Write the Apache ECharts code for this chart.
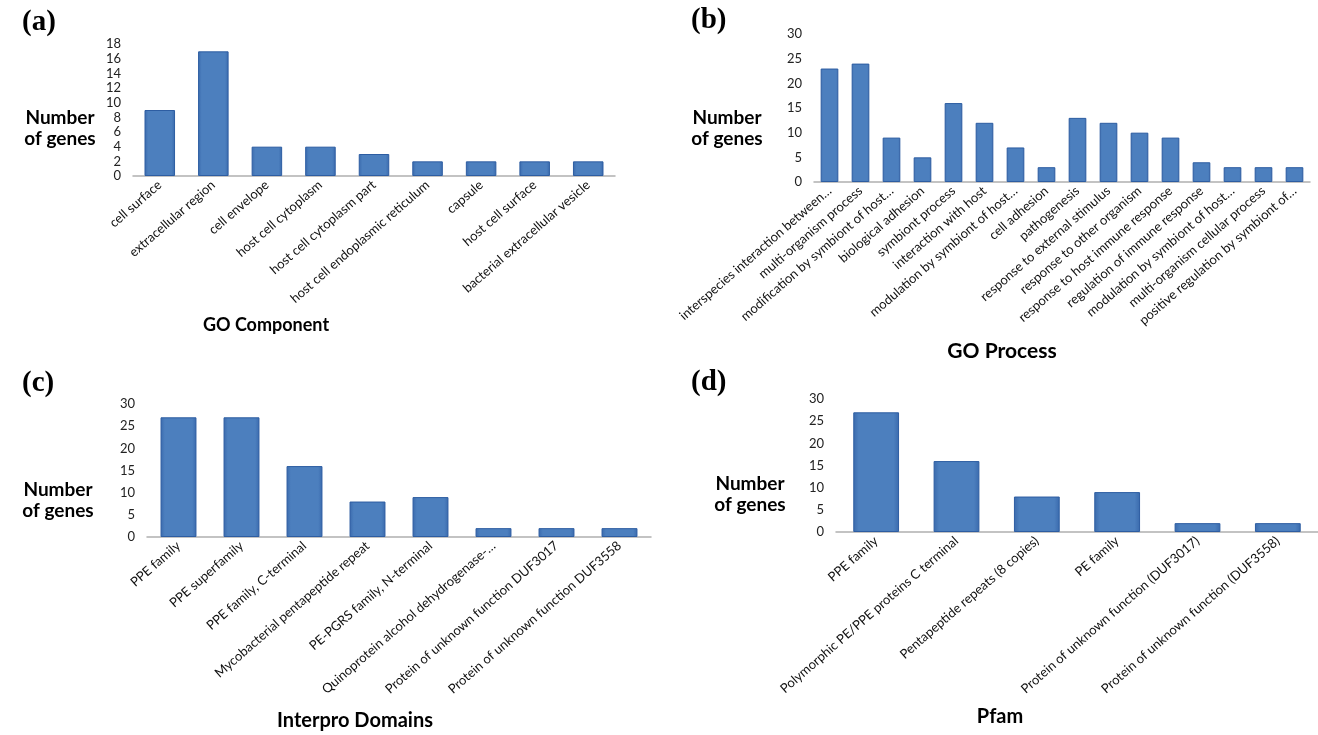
<!DOCTYPE html>
<html>
<head>
<meta charset="utf-8">
<script src="https://cdn.jsdelivr.net/npm/echarts@6/dist/echarts.min.js"></script>
<style>
  html, body { margin: 0; padding: 0; background: #fff; }
  #chart { width: 1318px; height: 735px; }
</style>
</head>
<body>
<div id="chart"></div>
<script>
// GO Component
const compCats = ['cell surface', 'extracellular region', 'cell envelope', 'host cell cytoplasm',
  'host cell cytoplasm part', 'host cell endoplasmic reticulum', 'capsule', 'host cell surface',
  'bacterial extracellular vesicle'];
const compVals = [9, 17, 4, 4, 3, 2, 2, 2, 2];

// GO Process
const procCats = ['interspecies interaction between…', 'multi-organism process',
  'modification by symbiont of host…', 'biological adhesion', 'symbiont process',
  'interaction with host', 'modulation by symbiont of host…', 'cell adhesion', 'pathogenesis',
  'response to external stimulus', 'response to other organism', 'response to host immune response',
  'regulation of immune response', 'modulation by symbiont of host…', 'multi-organism cellular process',
  'positive regulation by symbiont of…'];
const procVals = [23, 24, 9, 5, 16, 12, 7, 3, 13, 12, 10, 9, 4, 3, 3, 3];

// Interpro Domains
const iproCats = ['PPE family', 'PPE superfamily', 'PPE family, C-terminal',
  'Mycobacterial pentapeptide repeat', 'PE-PGRS family, N-terminal',
  'Quinoprotein alcohol dehydrogenase-…', 'Protein of unknown function DUF3017',
  'Protein of unknown function DUF3558'];
const iproVals = [27, 27, 16, 8, 9, 2, 2, 2];

// Pfam
const pfamCats = ['PPE family', 'Polymorphic PE/PPE proteins C terminal', 'Pentapeptide repeats (8 copies)',
  'PE family', 'Protein of unknown function (DUF3017)', 'Protein of unknown function (DUF3558)'];
const pfamVals = [27, 16, 8, 9, 2, 2];

const panels = [
  { cats: compCats, vals: compVals, max: 18, step: 2,
    grid: { left: 133, top: 44, width: 482, height: 132 } },
  { cats: procCats, vals: procVals, max: 30, step: 5,
    grid: { left: 814, top: 34, width: 496, height: 148 } },
  { cats: iproCats, vals: iproVals, max: 30, step: 5,
    grid: { left: 147, top: 404, width: 504, height: 133 } },
  { cats: pfamCats, vals: pfamVals, max: 30, step: 5,
    grid: { left: 836, top: 399, width: 482, height: 133 } }
];

const sansFont = 'Lato, "Open Sans", sans-serif';

const barStyle = {
  color: {
    type: 'linear', x: 0, y: 0, x2: 1, y2: 0,
    colorStops: [
      { offset: 0, color: '#3a6aad' },
      { offset: 0.12, color: '#4c7fbe' },
      { offset: 0.88, color: '#4c7fbe' },
      { offset: 1, color: '#3a6aad' }
    ]
  },
  borderColor: '#2d5da2',
  borderWidth: 1
};

const chart = echarts.init(document.getElementById('chart'), null, { renderer: 'canvas' });

const option = {
  backgroundColor: '#ffffff',
  animation: false,
  grid: panels.map(p => Object.assign({ containLabel: false }, p.grid)),
  xAxis: panels.map((p, i) => ({
    type: 'category',
    gridIndex: i,
    data: p.cats,
    axisTick: { show: false },
    axisLine: { lineStyle: { color: '#b0b0b0', width: 1.5 } },
    axisLabel: {
      interval: 0, rotate: 41, margin: 7,
      fontFamily: sansFont, fontSize: 13, color: '#111'
    }
  })),
  yAxis: panels.map((p, i) => ({
    type: 'value',
    gridIndex: i,
    min: 0, max: p.max, interval: p.step,
    splitLine: { show: false },
    axisLine: { show: false },
    axisTick: { show: false },
    axisLabel: { fontFamily: sansFont, fontSize: 13, color: '#222', margin: 12 }
  })),
  series: panels.map((p, i) => ({
    type: 'bar',
    xAxisIndex: i, yAxisIndex: i,
    data: p.vals,
    barCategoryGap: '43%',
    itemStyle: barStyle
  })),
  graphic: [
    // panel letters
    ...[['(a)', 22, 8], ['(b)', 691, 6], ['(c)', 22, 369], ['(d)', 691, 368]].map(([t, x, y]) => ({
      type: 'text', left: x, top: y,
      style: { text: t, font: 'bold 29px "Liberation Serif", "Times New Roman", serif', fill: '#000' }
    })),
    // y-axis captions
    ...[[60, 107], [727, 107], [58, 479], [750, 473]].map(([x, y]) => ({
      type: 'text', x: x, y: y,
      style: {
        text: 'Number\nof genes', align: 'center', verticalAlign: 'top',
        font: 'bold 19px ' + sansFont, lineHeight: 21, fill: '#000'
      }
    })),
    // x-axis captions
    ...[['GO Component', 266, 325, 18], ['GO Process', 1002, 351, 21],
        ['Interpro Domains', 355, 721, 20], ['Pfam', 1000, 717, 20]].map(([t, x, y, s]) => ({
      type: 'text', x: x, y: y,
      style: {
        text: t, align: 'center', verticalAlign: 'middle',
        font: 'bold ' + s + 'px ' + sansFont, fill: '#000'
      }
    }))
  ]
};

chart.setOption(option);
</script>
</body>
</html>
